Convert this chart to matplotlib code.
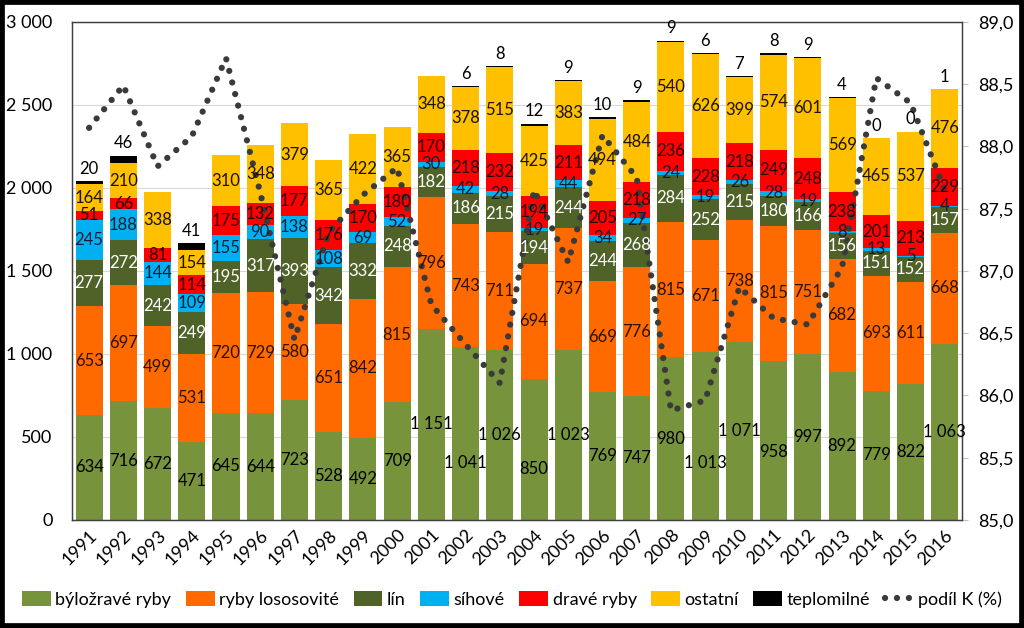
import numpy as np
import matplotlib
matplotlib.use('Agg')
import matplotlib.pyplot as plt
from matplotlib.patches import Rectangle
from matplotlib.lines import Line2D
from matplotlib.patches import Patch

plt.rcParams['font.family'] = ['Lato', 'DejaVu Sans']

roky = [str(r) for r in range(1991, 2017)]

bylozrave = [634, 716, 672, 471, 645, 644, 723, 528, 492, 709, 1151, 1041, 1026,
             850, 1023, 769, 747, 980, 1013, 1071, 958, 997, 892, 779, 822, 1063]
lososovite = [653, 697, 499, 531, 720, 729, 580, 651, 842, 815, 796, 743, 711,
              694, 737, 669, 776, 815, 671, 738, 815, 751, 682, 693, 611, 668]
lin = [277, 272, 242, 249, 195, 317, 393, 342, 332, 248, 182, 186, 215,
       194, 244, 244, 268, 284, 252, 215, 180, 166, 156, 151, 152, 157]
sihove = [245, 188, 144, 109, 155, 90, 138, 108, 69, 52, 30, 42, 28,
          19, 44, 34, 27, 24, 19, 26, 28, 19, 8, 13, 5, 4]
drave = [51, 66, 81, 114, 175, 132, 177, 176, 170, 180, 170, 218, 232,
         194, 211, 205, 218, 236, 228, 218, 249, 248, 238, 201, 213, 229]
ostatni = [164, 210, 338, 154, 310, 348, 379, 365, 422, 365, 348, 378, 515,
           425, 383, 494, 484, 540, 626, 399, 574, 601, 569, 465, 537, 476]
teplomilne = [20, 46, np.nan, 41, np.nan, np.nan, np.nan, np.nan, np.nan, np.nan, np.nan, 6, 8,
              12, 9, 10, 9, 9, 6, 7, 8, 9, 4, 0, 0, 1]
podil_k = [88.15, 88.49, 87.84, 88.08, 88.71, 87.63, 86.45, 87.31, 87.61, 87.83,
           86.73, 86.41, 86.10, 87.65, 87.07, 88.09, 87.75, 85.88, 85.96, 86.87,
           86.62, 86.57, 87.03, 88.55, 88.35, 87.65]

serie = [
    ('býložravé ryby', bylozrave, '#77933C', 'black'),
    ('ryby lososovité', lososovite, '#FF6A00', '#2a1200'),
    ('lín', lin, '#4F6228', 'white'),
    ('síhové', sihove, '#00B0F0', '#0d1f33'),
    ('dravé ryby', drave, '#FF0000', '#2a0000'),
    ('ostatní', ostatni, '#FFC000', '#1a1400'),
    ('teplomilné', teplomilne, 'black', 'black'),
]

# ručně posunuté popisky u zelené řady (index roku -> posun v jednotkách osy)
posun_zelene = {11: -180, 13: -115, 18: -165, 20: -70}


def fmt(v):
    return f'{int(v):,}'.replace(',', ' ')


fig = plt.figure(figsize=(10.24, 6.28), dpi=100)
ax = fig.add_axes([0.0703, 0.172, 0.869, 0.793])
ax2 = ax.twinx()

x = np.arange(len(roky))
spodek = np.zeros(len(roky))
popisky = []
for nazev, hodnoty, barva, tbarva in serie:
    h = np.nan_to_num(np.array(hodnoty, dtype=float))
    ax.bar(x, h, 0.79, bottom=spodek, color=barva, zorder=2)
    for i, v in enumerate(hodnoty):
        if np.isnan(v):
            continue
        if nazev == 'teplomilné':
            popisky.append((i, spodek[i] + h[i] + 25, fmt(v), tbarva, 'bottom'))
        else:
            y = spodek[i] + h[i] / 2
            if nazev == 'býložravé ryby':
                y += posun_zelene.get(i, 0)
            popisky.append((i, y, fmt(v), tbarva, 'center'))
    spodek += h

ax.set_xlim(-0.5, len(roky) - 0.5)
ax.set_ylim(0, 3000)
ax.set_yticks(np.arange(0, 3001, 500))
ax.set_yticklabels([fmt(v) for v in np.arange(0, 3001, 500)], fontsize=13)
ax.set_xticks(x)
ax.set_xticklabels(roky, rotation=45, ha='right', rotation_mode='anchor', fontsize=13)
ax.tick_params(axis='y', length=0, pad=14)
ax.tick_params(axis='x', length=0, pad=5)
ax.grid(axis='y', color='#D9D9D9', linewidth=0.8, zorder=0)
ax.set_axisbelow(True)

ax2.plot(x, podil_k, color='#3a3a3a', linewidth=4.5, linestyle=(0, (0.01, 1.9)),
         dash_capstyle='round', zorder=3)
ax2.set_ylim(85, 89)
ax2.set_yticks(np.arange(85, 89.01, 0.5))
ax2.set_yticklabels([f'{v:.1f}'.replace('.', ',') for v in np.arange(85, 89.01, 0.5)], fontsize=13)
ax2.tick_params(axis='y', length=4, color='#BFBFBF', pad=8)

for osa in (ax, ax2):
    for s in osa.spines.values():
        s.set_color('#404040')
        s.set_linewidth(0.9)

for i, y, s, c, va in popisky:
    ax2.text(i, y, s, transform=ax.transData, ha='center', va=va,
             color=c, fontsize=12, zorder=5)

handles = [Patch(facecolor=b, label=n) for n, _, b, _ in serie]
handles.append(Line2D([0], [0], color='#3a3a3a', linewidth=4.5, linestyle=(0, (0.01, 1.9)),
                      dash_capstyle='round', label='podíl K (%)'))
fig.legend(handles=handles, loc='center', bbox_to_anchor=(0.5, 0.045), ncol=8,
           frameon=False, fontsize=13, handlelength=1.6, handleheight=0.9,
           handletextpad=0.25, columnspacing=0.8)

fig.patches.append(Rectangle((0, 0), 1, 1, transform=fig.transFigure, fill=False,
                             edgecolor='black', linewidth=7, zorder=10))

fig.savefig('out.png', dpi=100)
